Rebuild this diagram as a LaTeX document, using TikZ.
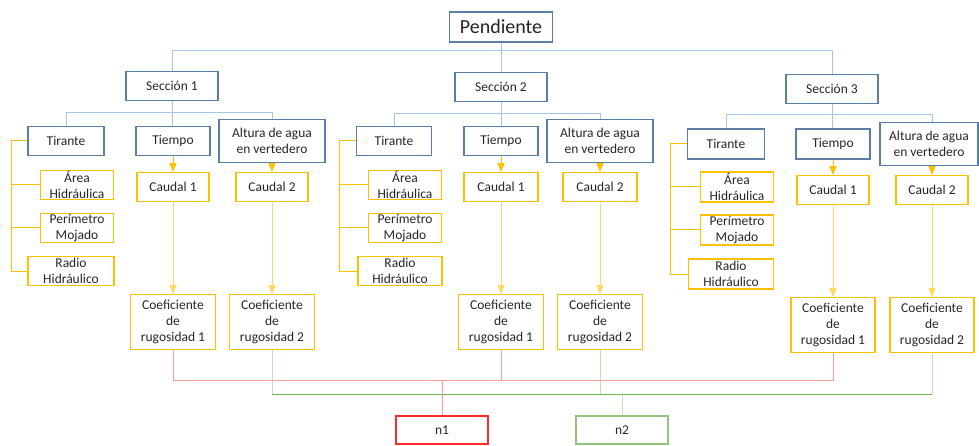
\documentclass[tikz,border=0pt]{standalone}
\usepackage{fontspec}
\setmainfont{Carlito}
\usetikzlibrary{positioning,arrows}
\definecolor{azul}{HTML}{5B7EA6}
\definecolor{azulclaro}{HTML}{A4C6E8}
\definecolor{amarillo}{HTML}{FFC000}
\definecolor{amarilloclaro}{HTML}{FFD966}
\definecolor{rojo}{HTML}{FF2A2A}
\definecolor{rojoclaro}{HTML}{FF9C9C}
\definecolor{verde}{HTML}{78B450}
\definecolor{verdeclaro}{HTML}{C5E0B4}
\definecolor{verdecaja}{HTML}{93C47D}
\definecolor{texto}{HTML}{262626}

\begin{document}
\begin{tikzpicture}[x=1pt,y=-1pt,>=triangle 45,
    caja/.style={rectangle,draw,line width=1.3pt,inner sep=0pt,minimum height=29pt,
      align=center,text=texto,font=\fontsize{13.5}{16}\selectfont},
    cajaazul/.style={caja,draw=azul},
    cajaama/.style={caja,draw=amarillo},
    lazul/.style={draw=azulclaro,line width=1pt},
    lama/.style={draw=amarillo,fill=amarillo,line width=1pt},
    lamaclaro/.style={draw=amarilloclaro,fill=amarillo,line width=1pt}]
      \useasboundingbox (0,0) rectangle (979,446);

      \node[cajaazul,minimum width=103pt,minimum height=30pt,
        font=\fontsize{20}{24}\selectfont] (p) at (501,27) {Pendiente};
      \node[cajaazul,minimum width=92pt] (s1) at (172,86) {Sección 1};
      \node[cajaazul,minimum width=92pt] (s2) at (501,87) {Sección 2};
      \node[cajaazul,minimum width=92pt] (s3) at (832,89) {Sección 3};

      % seccion 1
      \node[cajaazul,minimum width=76pt] (ti1) at (66,141) {Tirante};
      \node[cajaazul,minimum width=74pt] (te1) at (173,141) {Tiempo};
      \node[cajaazul,minimum width=106pt,minimum height=43pt] (al1) at (272,141)
      {Altura de agua\\en vertedero}; \node[cajaama,minimum width=72pt] (c1a)
      at (173,187) {Caudal 1}; \node[cajaama,minimum width=72pt] (c1b) at
      (272,187) {Caudal 2};
      \node[cajaama,minimum width=73pt] (a1) at (77,185) {Área\\Hidráulica};
      \node[cajaama,minimum width=73pt] (m1) at (77,228) {Perímetro\\Mojado};
      \node[cajaama,minimum width=86pt] (r1) at (71,271) {Radio\\Hidráulico};
      \node[cajaama,minimum width=85pt,minimum height=55pt] (k1a) at (173,322)
      {Coeficiente\\de\\rugosidad 1}; \node[cajaama,minimum width=85pt,minimum
      height=55pt] (k1b) at (272,322) {Coeficiente\\de\\rugosidad 2};

      % seccion 2
      \node[cajaazul,minimum width=75pt] (ti2) at (394,141) {Tirante};
      \node[cajaazul,minimum width=74pt] (te2) at (501,141) {Tiempo};
      \node[cajaazul,minimum width=106pt,minimum height=43pt] (al2) at (600,141)
      {Altura de agua\\en vertedero}; \node[cajaama,minimum width=74pt] (c2a)
      at (501,187) {Caudal 1}; \node[cajaama,minimum width=74pt] (c2b) at
      (600,187) {Caudal 2};
      \node[cajaama,minimum width=73pt] (a2) at (405,185) {Área\\Hidráulica};
      \node[cajaama,minimum width=73pt] (m2) at (405,228) {Perímetro\\Mojado};
      \node[cajaama,minimum width=84pt] (r2) at (400,271) {Radio\\Hidráulico};
      \node[cajaama,minimum width=85pt,minimum height=55pt] (k2a) at (501,322)
      {Coeficiente\\de\\rugosidad 1}; \node[cajaama,minimum width=85pt,minimum
      height=55pt] (k2b) at (600,322) {Coeficiente\\de\\rugosidad 2};

      % seccion 3
      \node[cajaazul,minimum width=77pt,minimum height=30pt] (ti3) at (726,144) {Tirante};
      \node[cajaazul,minimum width=74pt,minimum height=30pt] (te3) at (833,144) {Tiempo};
      \node[cajaazul,minimum width=98pt,minimum height=43pt] (al3) at (929,144)
      {Altura de agua\\en vertedero}; \node[cajaama,minimum width=72pt] (c3a)
      at (833,190) {Caudal 1}; \node[cajaama,minimum width=72pt] (c3b) at
      (932,190) {Caudal 2};
      \node[cajaama,minimum width=73pt,minimum height=30pt] (a3) at (737,187) {Área\\Hidráulica};
      \node[cajaama,minimum width=73pt,minimum height=30pt] (m3) at (737,230) {Perímetro\\Mojado};
      \node[cajaama,minimum width=85pt,minimum height=30pt] (r3) at (731,274) {Radio\\Hidráulico};
      \node[cajaama,minimum width=84pt,minimum height=55pt] (k3a) at (833,325)
      {Coeficiente\\de\\rugosidad 1}; \node[cajaama,minimum width=84pt,minimum
      height=55pt] (k3b) at (932,325) {Coeficiente\\de\\rugosidad 2};

      \node[caja,draw=rojo,minimum width=92pt,minimum height=28pt] (n1) at (442,430) {n1};
      \node[caja,draw=verdecaja,minimum width=92pt,minimum height=28pt] (n2) at (622,430) {n2};

      % lineas azules
      \draw[lazul] (p) -- (s2); \draw[lazul] (p.south) -- ++(0,8) -| (s1.north);
      \draw[lazul] (p.south) -- ++(0,8) -| (s3.north);
      \draw[lazul] (s1.south) -- ++(0,11) -| (ti1.north) (s1.south) ++(0,11) -|
      (al1.north) (s1.south) -- (s1.south |- te1.north);
      \draw[lazul] (s2.south) -- ++(0,11) -| (ti2.north) (s2.south) ++(0,11) -|
      (al2.north) (s2.south) -- (s2.south |- te2.north);
      \draw[lazul] (s3.south) -- ++(0,10) -| (ti3.north) (s3.south) ++(0,10) -|
      (c3b.north |- al3.north) (s3.south) -- (s3.south |- te3.north);

      % tirante
      \draw[lama,fill=none] (ti1.west) -- ++(-16,0) coordinate (y1) |- (r1.west)
      (y1) |- (a1.west) (y1) |- (m1.west);
      \draw[lama,fill=none] (ti2.west) -- ++(-16,0) coordinate (y2) |- (r2.west)
      (y2) |- (a2.west) (y2) |- (m2.west);
      \draw[lama,fill=none] (ti3.west) -- ++(-16,0) coordinate (y3) |- (r3.west)
      (y3) |- (a3.west) (y3) |- (m3.west);

      % caudales
      \draw[->,lama] (te1) -- (c1a); \draw[->,lama] (al1) -- (c1b);
      \draw[->,lama] (te2) -- (c2a); \draw[->,lama] (al2) -- (c2b);
      \draw[->,lama] (te3) -- (c3a); \draw[->,lama] (al3.south -| c3b) -- (c3b);
      \draw[->,lamaclaro] (c1a) -- (k1a); \draw[->,lamaclaro] (c1b) -- (k1b);
      \draw[->,lamaclaro] (c2a) -- (k2a); \draw[->,lamaclaro] (c2b) -- (k2b);
      \draw[->,lamaclaro] (c3a) -- (k3a); \draw[->,lamaclaro] (c3b) -- (k3b);

      % n1 y n2
      \draw[verdeclaro,line width=1pt] (k1b.south) -- ++(0,44) coordinate (g1)
      (k2b.south) -- (k2b.south |- g1) (k3b.south) -- (k3b.south |- g1)
      coordinate (g3) (n2.north |- g1) -- (n2.north);
      \draw[verde,line width=1pt] (g1) -- (g3);
      \draw[rojoclaro,line width=1pt] (k1a.south) -- ++(0,30) coordinate (q1) -|
      (k3a.south) (k2a.south) -- (k2a.south |- q1) (n1.north |- q1) -- (n1.north);
    \end{tikzpicture}
\end{document}
